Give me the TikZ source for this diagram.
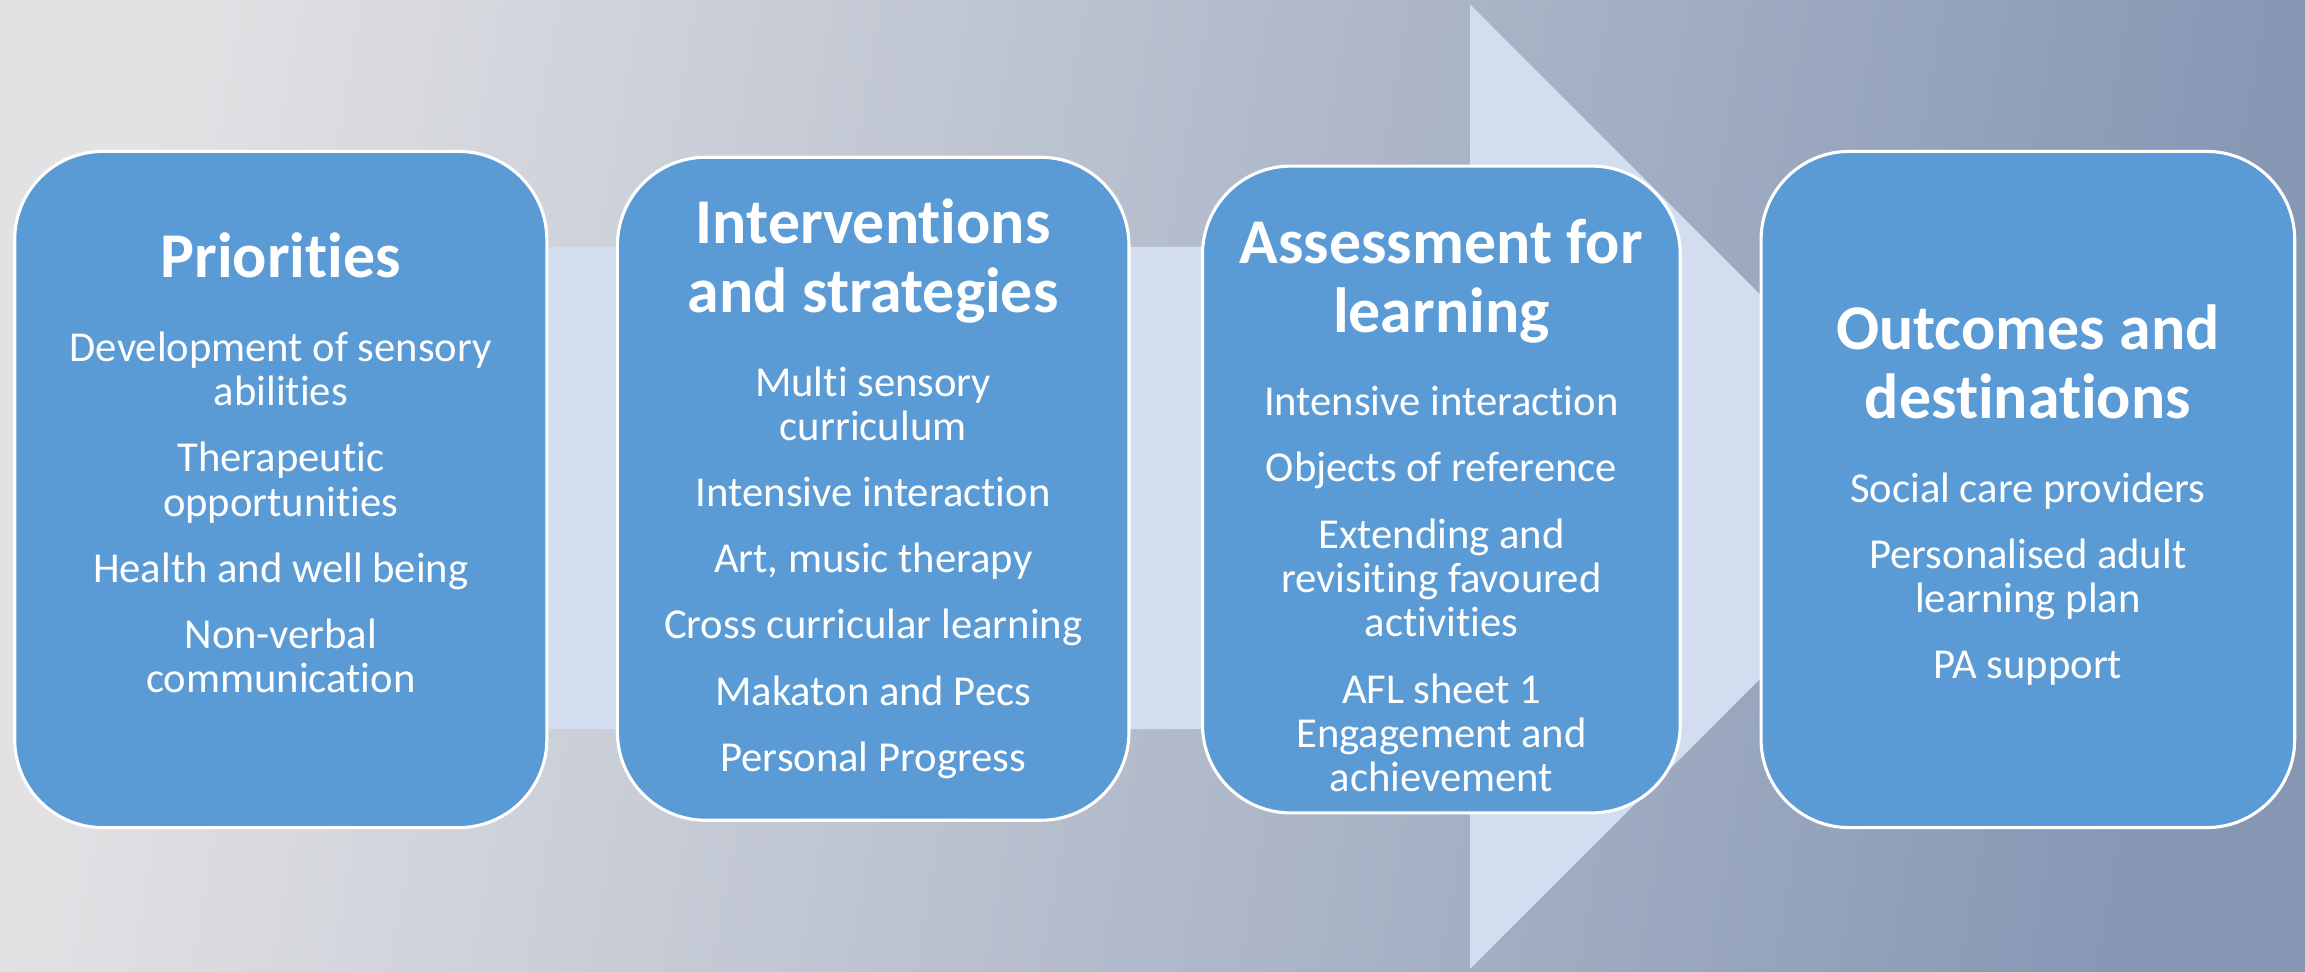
\documentclass[tikz,border=0pt]{standalone}
\usepackage{fontspec}
\setmainfont{Carlito}[Ligatures=NoCommon]
\usepackage{xcolor}

\definecolor{boxblue}{RGB}{91,155,213}
\definecolor{arrowblue}{RGB}{210,222,239}
\definecolor{bgleft}{RGB}{226,226,228}
\definecolor{bgright}{RGB}{134,151,180}

\newcommand{\phasehead}{\fontsize{12.35}{13.3}\selectfont\bfseries}
\newcommand{\phasebody}{\fontsize{8.25}{8.6}\selectfont}
\newcommand{\phasetext}[1]{\begin{minipage}{31mm}\centering #1\end{minipage}}

\begin{document}
\begin{tikzpicture}[x=0.1mm, y=-0.1mm,
  phase/.style={rectangle, draw=white, line width=0.6pt, fill=boxblue, text=white, inner sep=0pt, rounded corners=6mm},
  flow/.style={fill=arrowblue}]
% background
\shade[left color=bgleft, right color=bgright, shading angle=80] (0,0) rectangle (1568,661);
\useasboundingbox (0,0) rectangle (1568,661);
% big arrow behind the boxes
\path[flow] (30,168) -- (1000,168) -- (1000,3) -- (1328,331) -- (1000,659) -- (1000,496) -- (30,496) -- cycle;
\node[phase, minimum width=36.2mm, minimum height=46mm] (prio) at (191,333) {\phasetext{
  {\phasehead Priorities\par}\vspace{7.6pt}\phasebody
  Development of sensory\\abilities\\[4.2pt]
  Therapeutic\\opportunities\\[4.2pt]
  Health and well being\\[4.2pt]
  Non-verbal\\communication\par\vspace*{3.6mm}}};
\node[phase, minimum width=34.8mm, minimum height=45.1mm] (interv) at (594,332.5) {\phasetext{
  {\phasehead Interventions\\and strategies\par}\vspace{7.6pt}\phasebody
  Multi sensory\\curriculum\\[4.2pt]
  Intensive interaction\\[4.2pt]
  Art, music therapy\\[4.2pt]
  Cross curricular learning\\[4.2pt]
  Makaton and Pecs\\[4.2pt]
  Personal Progress}};
\node[phase, minimum width=32.5mm, minimum height=44mm] (afl) at (980.5,333) {\phasetext{\vspace*{2.2mm}
  {\phasehead Assessment for\\learning\par}\vspace{7.6pt}\phasebody
  Intensive interaction\\[4.2pt]
  Objects of reference\\[4.2pt]
  Extending and\\revisiting favoured\\activities\\[4.2pt]
  AFL sheet 1\\Engagement and\\achievement}};
\node[phase, minimum width=36.3mm, minimum height=46mm] (outc) at (1379.5,333) {\phasetext{\vspace*{0.8mm}
  {\phasehead Outcomes and\\destinations\par}\vspace{7.6pt}\phasebody
  Social care providers\\[4.2pt]
  Personalised adult\\learning plan\\[4.2pt]
  PA support}};
\end{tikzpicture}
\end{document}
